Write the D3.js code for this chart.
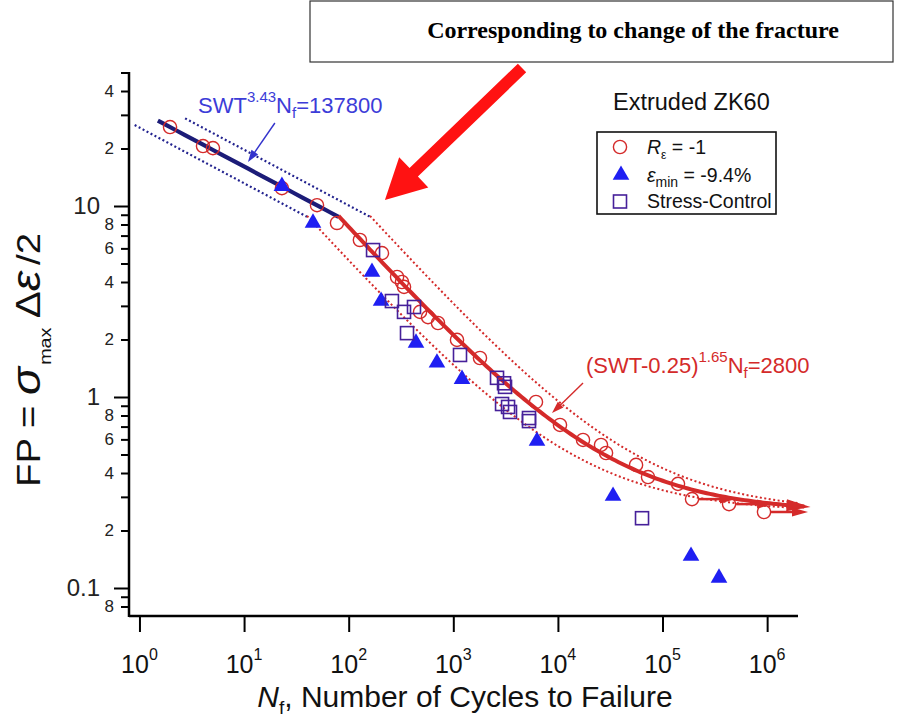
<!DOCTYPE html>
<html><head><meta charset="utf-8">
<script src="https://cdn.jsdelivr.net/npm/d3@7"></script>
<style>
body{margin:0;background:#fff}
svg{display:block}
text{font-family:"Liberation Sans",Arial,sans-serif}
</style>
</head><body>
<svg id="c" width="897" height="719"></svg>
<script>
// ---------------- data ----------------
const circleNf = [1.96, 4.05, 5.04, 23.0, 49.8, 77.3, 128, 208, 290, 323, 338, 481, 573, 714, 1085, 1799, 6170, 10470, 17380, 25820, 28840, 55850, 72660, 140600, 191400, 432400, 933300];
const circleFP = [25.9, 20.6, 20.1, 12.4, 10.1, 8.15, 6.64, 5.67, 4.25, 4.0, 3.77, 2.79, 2.62, 2.44, 1.99, 1.60, 0.942, 0.714, 0.596, 0.561, 0.509, 0.441, 0.381, 0.351, 0.292, 0.275, 0.250];
const runoutNf = [191400, 432400, 933300];
const runoutFP = [0.292, 0.275, 0.250];

const triangleNf = [23.0, 45.6, 167, 204, 440, 698, 1211, 6310, 33650, 187200, 346700];
const triangleFP = [12.7, 8.15, 4.51, 3.18, 1.92, 1.51, 1.24, 0.588, 0.303, 0.147, 0.113];

const squareNf = [171, 259, 421, 338, 361, 1159, 2618, 3055, 3122, 2924, 3337, 3483, 5291, 5291, 63680];
const squareFP = [5.88, 3.18, 2.96, 2.79, 2.16, 1.66, 1.26, 1.18, 1.13, 0.919, 0.887, 0.835, 0.776, 0.748, 0.232];

// fit equations shown on the chart
const swtFit = {A: 137800, b: 3.43, from: 1.5, to: 80};           // SWT^3.43 Nf = 137800
const redFit = {c: 0.25, A: 2800, b: 1.65, from: 80, to: 2.6e6};   // (SWT-0.25)^1.65 Nf = 2800
const bandFactor = 2;

const xTickPowers = [0, 1, 2, 3, 4, 5, 6];
const yMajorTicks = [0.1, 1, 10];
const yMajorLabels = ["0.1", "1", "10"];
const yMinorTicks = [0.08, 0.09, 0.2, 0.3, 0.4, 0.5, 0.6, 0.7, 0.8, 0.9, 2, 3, 4, 5, 6, 7, 8, 9, 20, 30, 40, 50];
const yMinorLabels = ["8", "", "2", "", "4", "", "6", "", "8", "", "2", "", "4", "", "6", "", "8", "", "2", "", "4", ""];

const legendLabels = ["R", "ε", "Stress-Control"];

// ---------------- chart ----------------
const svg = d3.select("#c");
const x = d3.scaleLog().domain([Math.pow(10, -0.1), Math.pow(10, 6.295)]).range([129, 798]);
const y = d3.scaleLog().domain([Math.pow(10, -1.1466), Math.pow(10, 1.7016)]).range([616, 72]);

const RED = "#d42a2a", NAVY = "#1c1c78", NAVYDOT = "#23238f", BLUE = "#1f1ff2", PURPLE = "#46209a";

// title box
svg.append("rect").attr("x", 310).attr("y", 1).attr("width", 583).attr("height", 61)
  .attr("fill", "none").attr("stroke", "#333").attr("stroke-width", 1.2);
svg.append("text").attr("x", 633).attr("y", 38).attr("text-anchor", "middle")
  .style("font-family", "'Liberation Serif','Times New Roman',serif").style("font-weight", "bold")
  .style("font-size", "24px").text("Corresponding to change of the fracture");

// axes
const gMinor = svg.append("g").attr("transform", "translate(129,0)")
  .call(d3.axisLeft(y).tickValues(yMinorTicks).tickSize(8).tickPadding(7)
    .tickFormat((d, i) => yMinorLabels[i]));
const gMajor = svg.append("g").attr("transform", "translate(129,0)")
  .call(d3.axisLeft(y).tickValues(yMajorTicks).tickSize(15).tickPadding(14)
    .tickFormat((d, i) => yMajorLabels[i]));
gMinor.selectAll("text").style("font-size", "17px").attr("fill", "#222");
gMajor.selectAll("text").style("font-size", "24px").attr("dy", "0.3em").attr("fill", "#222");
const gBottom = svg.append("g").attr("transform", "translate(0,616)")
  .call(d3.axisBottom(x).tickValues(xTickPowers.map(p => Math.pow(10, p))).tickSize(16).tickFormat(""));
[gMinor, gMajor, gBottom].forEach(g => {
  g.select(".domain").remove();
  g.selectAll(".tick line").attr("stroke", "#000").attr("stroke-width", 2);
});
svg.append("line").attr("x1", 129).attr("x2", 129).attr("y1", y.range()[1]).attr("y2", y.range()[0] + 1)
  .attr("stroke", "#000").attr("stroke-width", 2.5);
svg.append("line").attr("x1", 129).attr("x2", x.range()[1]).attr("y1", 616).attr("y2", 616)
  .attr("stroke", "#000").attr("stroke-width", 2.5);

// x tick labels 10^n
xTickPowers.forEach(p => {
  const t = svg.append("text").attr("x", x(Math.pow(10, p))).attr("y", 673)
    .attr("text-anchor", "middle").style("font-size", "25px").attr("fill", "#111");
  t.append("tspan").text("10");
  t.append("tspan").attr("dy", -13).style("font-size", "16px").text(p);
});

// axis titles
const xt = svg.append("text").attr("x", 465).attr("y", 707).attr("text-anchor", "middle")
  .style("font-size", "30px").attr("fill", "#111");
xt.append("tspan").style("font-style", "italic").text("N");
xt.append("tspan").attr("dy", 7).style("font-size", "19px").text("f");
xt.append("tspan").attr("dy", -7).text(", Number of Cycles to Failure");

const yt = svg.append("text").attr("transform", "translate(40,360) rotate(-90) scale(1.16,1)")
  .attr("text-anchor", "middle").style("font-size", "33px").attr("fill", "#111");
yt.append("tspan").text("FP = ");
yt.append("tspan").style("font-style", "italic").style("font-size", "40px").text("σ");
yt.append("tspan").attr("dy", 11).attr("dx", 2).style("font-size", "17px").text("max");
yt.append("tspan").attr("dy", -11).attr("dx", 8).style("font-size", "35px").text("Δ");
yt.append("tspan").style("font-style", "italic").style("font-size", "40px").text("ε");
yt.append("tspan").attr("dx", 5).text("/2");

// fit curves
const swtOf = N => Math.pow(swtFit.A / N, 1 / swtFit.b);
const redOf = N => redFit.c + Math.pow(redFit.A / N, 1 / redFit.b);
const sampleLog = (a, b, n) => d3.range(n + 1).map(i => Math.pow(10, Math.log10(a) + (Math.log10(b) - Math.log10(a)) * i / n));
const line = d3.line().x(d => x(d[0])).y(d => y(d[1])).curve(d3.curveLinear);

// navy bands & solid
svg.append("path").attr("d", line(sampleLog(2.73, swtFit.to * bandFactor, 40).map(N => [N, swtOf(N / bandFactor)])))
  .attr("fill", "none").attr("stroke", NAVYDOT).attr("stroke-width", 2.2).attr("stroke-dasharray", "2,2.5");
svg.append("path").attr("d", line(sampleLog(0.9, swtFit.to / bandFactor, 40).map(N => [N, swtOf(N * bandFactor)])))
  .attr("fill", "none").attr("stroke", NAVYDOT).attr("stroke-width", 2.2).attr("stroke-dasharray", "2,2.5");
// red bands
svg.append("path").attr("d", line(sampleLog(redFit.from * bandFactor, 2.0e6, 120).map(N => [N, redOf(N / bandFactor)])))
  .attr("fill", "none").attr("stroke", RED).attr("stroke-width", 2).attr("stroke-dasharray", "2,2.5");
svg.append("path").attr("d", line(sampleLog(redFit.from / bandFactor, 2.0e6, 120).map(N => [N, redOf(N * bandFactor)])))
  .attr("fill", "none").attr("stroke", RED).attr("stroke-width", 2).attr("stroke-dasharray", "2,2.5");

svg.append("path").attr("d", line(sampleLog(swtFit.from, swtFit.to, 20).map(N => [N, swtOf(N)])))
  .attr("fill", "none").attr("stroke", NAVY).attr("stroke-width", 4.2);
const redPts = sampleLog(redFit.from, redFit.to, 150).map(N => [N, redOf(N)]);
svg.append("path").attr("d", line(redPts.slice(0, -2)))
  .attr("fill", "none").attr("stroke", RED).attr("stroke-width", 4);

// arrow helpers
function arrowHead(g, x1, y1, x2, y2, len, w, color) {
  const dx = x2 - x1, dy = y2 - y1, L = Math.hypot(dx, dy), ux = dx / L, uy = dy / L;
  const bx = x2 - ux * len, by = y2 - uy * len;
  g.append("path").attr("d", `M${x2},${y2}L${bx - uy * w / 2},${by + ux * w / 2}L${bx + uy * w / 2},${by - ux * w / 2}Z`)
    .attr("fill", color);
}
function thinArrow(p1, p2, color, len, w, sw) {
  const x1 = x(p1[0]), y1 = y(p1[1]), x2 = x(p2[0]), y2 = y(p2[1]);
  const L = Math.hypot(x2 - x1, y2 - y1);
  const ex = x2 - (x2 - x1) / L * len * 0.8, ey = y2 - (y2 - y1) / L * len * 0.8;
  svg.append("line").attr("x1", x1).attr("y1", y1).attr("x2", ex).attr("y2", ey)
    .attr("stroke", color).attr("stroke-width", sw);
  arrowHead(svg, x1, y1, x2, y2, len, w, color);
}
// red fit arrow head
{
  const a = redPts[redPts.length - 3], b = redPts[redPts.length - 1];
  arrowHead(svg, x(a[0]), y(a[1]), x(b[0]), y(b[1]), 24, 12, RED);
}

// markers
const gm = svg.append("g");
gm.selectAll("circle.c").data(circleNf.map((n, i) => [n, circleFP[i]])).join("circle")
  .attr("cx", d => x(d[0])).attr("cy", d => y(d[1])).attr("r", 6.6)
  .attr("fill", "none").attr("stroke", RED).attr("stroke-width", 1.4);
// run-out arrows
runoutNf.forEach((n, i) => {
  const cx = x(n);
  thinArrow([x.invert(cx + 7), runoutFP[i]], [x.invert(cx + 44), runoutFP[i]], RED, 16, 9, 2.5);
});
gm.selectAll("path.t").data(triangleNf.map((n, i) => [n, triangleFP[i]])).join("path")
  .attr("transform", d => `translate(${x(d[0])},${y(d[1])})`)
  .attr("d", d3.symbol(d3.symbolTriangle, 120)).attr("fill", BLUE);
gm.selectAll("rect.s").data(squareNf.map((n, i) => [n, squareFP[i]])).join("rect")
  .attr("x", d => x(d[0]) - 6.5).attr("y", d => y(d[1]) - 6.5).attr("width", 13).attr("height", 13)
  .attr("fill", "none").attr("stroke", PURPLE).attr("stroke-width", 1.6);

// big red arrow
{
  const p1 = [4540, 52.8], p2 = [222, 10.75];
  const x1 = x(p1[0]), y1 = y(p1[1]), x2 = x(p2[0]), y2 = y(p2[1]);
  const dx = x2 - x1, dy = y2 - y1, L = Math.hypot(dx, dy), ux = dx / L, uy = dy / L;
  const hl = 40, hw = 42, sw = 12;
  const bx = x2 - ux * hl, by = y2 - uy * hl;
  const nx = -uy, ny = ux;
  const pts = [
    [x1 + nx * sw / 2, y1 + ny * sw / 2], [bx + nx * sw / 2, by + ny * sw / 2], [bx + nx * hw / 2, by + ny * hw / 2],
    [x2, y2], [bx - nx * hw / 2, by - ny * hw / 2], [bx - nx * sw / 2, by - ny * sw / 2], [x1 - nx * sw / 2, y1 - ny * sw / 2]
  ];
  svg.append("path").attr("d", "M" + pts.map(p => p.join(",")).join("L") + "Z").attr("fill", "#ff1212");
}

// annotations
thinArrow([19.7, 27.2], [10.9, 17.0], "#3333cc", 12, 8, 1.4);
const a1 = svg.append("text").attr("x", 198).attr("y", 113).style("font-size", "22px").attr("fill", "#3c3cd8");
a1.append("tspan").text("SWT");
a1.append("tspan").attr("dy", -11).style("font-size", "15px").text("3.43");
a1.append("tspan").attr("dy", 11).text("N");
a1.append("tspan").attr("dy", 5).style("font-size", "15px").text("f");
a1.append("tspan").attr("dy", -5).text("=137800");

thinArrow([17380, 1.184], [8781, 0.824], RED, 12, 8, 1.4);
const a2 = svg.append("text").attr("x", 586).attr("y", 373).style("font-size", "22px").attr("fill", RED);
a2.append("tspan").text("(SWT-0.25)");
a2.append("tspan").attr("dy", -11).style("font-size", "15px").text("1.65");
a2.append("tspan").attr("dy", 11).text("N");
a2.append("tspan").attr("dy", 5).style("font-size", "15px").text("f");
a2.append("tspan").attr("dy", -5).text("=2800");

svg.append("text").attr("x", 613).attr("y", 110).style("font-size", "23.5px").attr("fill", "#111").text("Extruded ZK60");

// legend
const lg = svg.append("g");
lg.append("rect").attr("x", 597).attr("y", 132).attr("width", 179).attr("height", 82)
  .attr("fill", "#fff").attr("stroke", "#111").attr("stroke-width", 1.6);
lg.append("circle").attr("cx", 620).attr("cy", 147).attr("r", 6.6).attr("fill", "none").attr("stroke", RED).attr("stroke-width", 1.4);
lg.append("path").attr("transform", "translate(621,175)").attr("d", d3.symbol(d3.symbolTriangle, 120)).attr("fill", BLUE);
lg.append("rect").attr("x", 613.5).attr("y", 195).attr("width", 13).attr("height", 13).attr("fill", "none").attr("stroke", PURPLE).attr("stroke-width", 1.6);
const l1 = lg.append("text").attr("x", 647).attr("y", 154).style("font-size", "19.5px").attr("fill", "#111");
l1.append("tspan").style("font-style", "italic").text(legendLabels[0]);
l1.append("tspan").attr("dy", 5).style("font-size", "12px").text("ε");
l1.append("tspan").attr("dy", -5).text(" = -1");
const l2 = lg.append("text").attr("x", 647).attr("y", 182).style("font-size", "19.5px").attr("fill", "#111");
l2.append("tspan").style("font-style", "italic").text(legendLabels[1]);
l2.append("tspan").attr("dy", 5).style("font-size", "14px").text("min");
l2.append("tspan").attr("dy", -5).text(" = -9.4%");
lg.append("text").attr("x", 647).attr("y", 208).style("font-size", "19.5px").attr("fill", "#111").text(legendLabels[2]);
</script>
</body></html>
